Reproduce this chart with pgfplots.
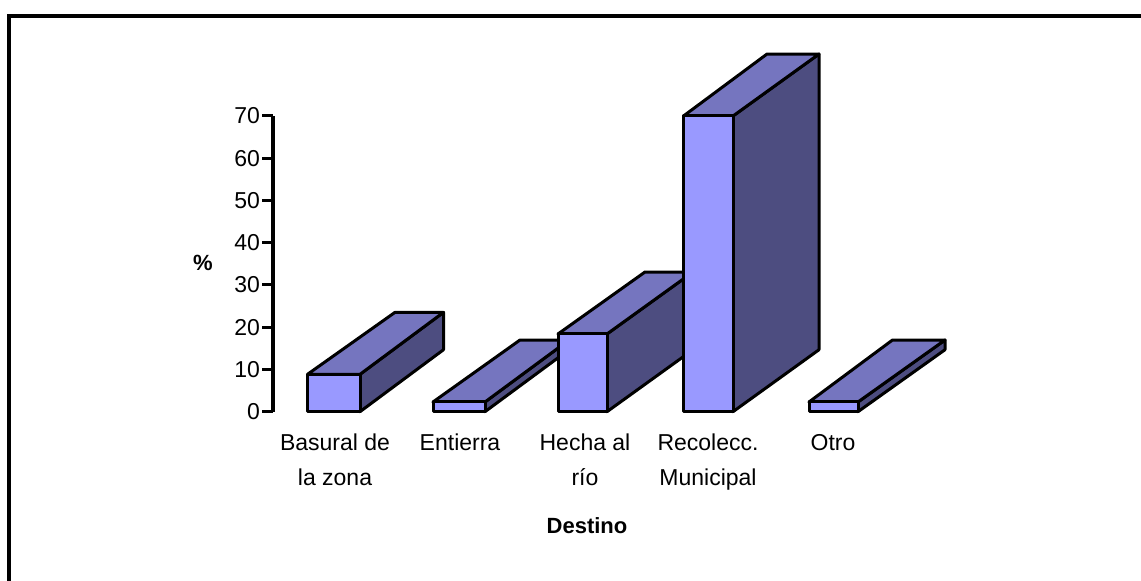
\documentclass[border=0pt]{standalone}
\usepackage{pgfplots}
\pgfplotsset{compat=1.18}
\usepackage{fontspec}
\setmainfont{Liberation Sans}
\definecolor{frontc}{HTML}{9999FF}
\definecolor{topc}{HTML}{7575BF}
\definecolor{sidec}{HTML}{4D4D80}
\begin{document}
\begin{tikzpicture}[x=1pt,y=1pt]
\path[use as bounding box] (0,0) rectangle (1141,581);
\draw[line width=3.4pt,black] (9,0) -- (9,565) -- (1141,565);
\begin{axis}[
  at={(273pt,169.3pt)},anchor=origin,
  scale only axis,width=727pt,height=295.7pt,
  xmin=273,xmax=1000,ymin=0,ymax=70,
  clip=false,
  axis x line=bottom,axis y line=left,
  x axis line style={draw=none,-},
  y axis line style={-},
  every outer y axis line/.append style={line width=3.2pt,black},
  every inner y axis line/.append style={line width=3.2pt,black},
  xtick={335,460,585,708,833},
  xticklabels={{Basural de\\la zona},{Entierra},{Hecha al\\río},{Recolecc.\\Municipal},{Otro}},
  x tick style={draw=none},
  x tick label style={align=center,font=\fontsize{23}{35}\selectfont,yshift=-8pt},
  ytick={0,10,...,70},
  y tick style={line width=3pt,black},
  major tick length=11pt,
  tick align=outside,
  y tick label style={font=\fontsize{23}{25}\selectfont,/pgf/number format/assume math mode=true,xshift=1.5pt},
  every axis plot/.append style={line width=3pt,draw=black,line join=round},
]
% Basural de la zona
\addplot[fill=sidec] coordinates {(360,0) (443.5,14.67) (443.5,23.52) (360,8.85)} -- cycle;
\addplot[fill=topc] coordinates {(307.5,8.85) (360,8.85) (443.5,23.52) (395,23.52)} -- cycle;
\addplot[fill=frontc] coordinates {(307.5,0) (360,0) (360,8.85) (307.5,8.85)} -- cycle;
% Entierra
\addplot[fill=sidec] coordinates {(485,0) (569,14.67) (569,16.97) (485,2.3)} -- cycle;
\addplot[fill=topc] coordinates {(433,2.3) (485,2.3) (569,16.97) (520,16.97)} -- cycle;
\addplot[fill=frontc] coordinates {(433,0) (485,0) (485,2.3) (433,2.3)} -- cycle;
% Hecha al rio
\addplot[fill=sidec] coordinates {(607,0) (693,14.67) (693,33.07) (607,18.4)} -- cycle;
\addplot[fill=topc] coordinates {(558,18.4) (607,18.4) (693,33.07) (645,33.07)} -- cycle;
\addplot[fill=frontc] coordinates {(558,0) (607,0) (607,18.4) (558,18.4)} -- cycle;
% Recolecc. Municipal
\addplot[fill=sidec] coordinates {(733,0) (819,14.67) (819,84.67) (733,70)} -- cycle;
\addplot[fill=topc] coordinates {(683.5,70) (733,70) (819,84.67) (767,84.67)} -- cycle;
\addplot[fill=frontc] coordinates {(683.5,0) (733,0) (733,70) (683.5,70)} -- cycle;
% Otro
\addplot[fill=sidec] coordinates {(858,0) (945,14.67) (945,16.97) (858,2.3)} -- cycle;
\addplot[fill=topc] coordinates {(809,2.3) (858,2.3) (945,16.97) (892.5,16.97)} -- cycle;
\addplot[fill=frontc] coordinates {(809,0) (858,0) (858,2.3) (809,2.3)} -- cycle;
\end{axis}
\node[font=\fontsize{22}{25}\selectfont\bfseries] at (587,55) {Destino};
\node[font=\fontsize{22}{25}\selectfont\bfseries] at (203,318) {\%};
\end{tikzpicture}
\end{document}
